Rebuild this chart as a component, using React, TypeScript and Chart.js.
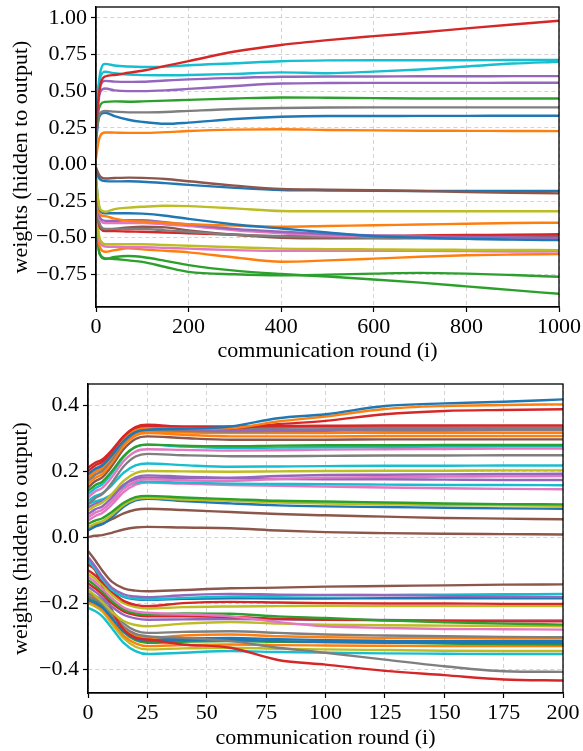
import React, { useEffect, useRef } from "react";
import { Chart, registerables } from "chart.js";

Chart.register(...registerables);

const BLUE = "#1f77b4";
const ORANGE = "#ff7f0e";
const GREEN = "#2ca02c";
const RED = "#d62728";
const PURPLE = "#9467bd";
const BROWN = "#8c564b";
const PINK = "#e377c2";
const GRAY = "#7f7f7f";
const OLIVE = "#bcbd22";
const CYAN = "#17becf";

// ---------- top panel ----------
const topRounds = [0, 5, 10, 20, 40, 70, 100, 150, 200, 300, 400, 500, 600, 700, 800, 900, 1000];
const topXTicks = [0, 200, 400, 600, 800, 1000];
const topYTicks = [-0.75, -0.5, -0.25, 0, 0.25, 0.5, 0.75, 1.0];
const topColors = [
  RED, CYAN, CYAN, PURPLE, PURPLE, GREEN, GRAY, BLUE, ORANGE,
  BROWN, BLUE, OLIVE, BLUE, ORANGE, PURPLE, PINK, GRAY, BROWN, RED, OLIVE, PINK, ORANGE, GREEN, GREEN,
];
const topWeights = [
  [0.25, 0.44, 0.55, 0.60, 0.61, 0.625, 0.639, 0.672, 0.705, 0.77, 0.815, 0.848, 0.875, 0.90, 0.928, 0.955, 0.98],
  [0.30, 0.52, 0.64, 0.686, 0.675, 0.668, 0.665, 0.667, 0.677, 0.69, 0.704, 0.71, 0.711, 0.711, 0.711, 0.712, 0.712],
  [0.28, 0.50, 0.60, 0.632, 0.622, 0.613, 0.609, 0.608, 0.61, 0.618, 0.628, 0.622, 0.633, 0.648, 0.668, 0.688, 0.70],
  [0.26, 0.45, 0.54, 0.57, 0.565, 0.563, 0.564, 0.572, 0.58, 0.59, 0.598, 0.60, 0.60, 0.601, 0.601, 0.602, 0.602],
  [0.22, 0.42, 0.50, 0.518, 0.505, 0.50, 0.50, 0.505, 0.515, 0.535, 0.552, 0.555, 0.556, 0.556, 0.556, 0.557, 0.557],
  [0.20, 0.36, 0.41, 0.427, 0.43, 0.428, 0.43, 0.435, 0.44, 0.45, 0.457, 0.455, 0.452, 0.45, 0.45, 0.45, 0.45],
  [0.18, 0.31, 0.355, 0.364, 0.36, 0.355, 0.355, 0.358, 0.365, 0.378, 0.385, 0.388, 0.389, 0.389, 0.389, 0.389, 0.389],
  [0.15, 0.30, 0.34, 0.352, 0.33, 0.305, 0.29, 0.277, 0.285, 0.31, 0.325, 0.33, 0.33, 0.331, 0.331, 0.332, 0.332],
  [0.04, 0.15, 0.20, 0.218, 0.217, 0.215, 0.215, 0.22, 0.228, 0.237, 0.24, 0.235, 0.232, 0.23, 0.229, 0.228, 0.227],
  [-0.02, -0.06, -0.085, -0.096, -0.093, -0.09, -0.092, -0.10, -0.115, -0.145, -0.168, -0.172, -0.176, -0.182, -0.188, -0.193, -0.198],
  [-0.04, -0.085, -0.105, -0.114, -0.116, -0.115, -0.118, -0.128, -0.14, -0.16, -0.175, -0.178, -0.18, -0.181, -0.181, -0.182, -0.182],
  [-0.10, -0.25, -0.31, -0.323, -0.305, -0.295, -0.289, -0.282, -0.285, -0.30, -0.318, -0.32, -0.32, -0.32, -0.32, -0.32, -0.32],
  [-0.09, -0.26, -0.32, -0.334, -0.333, -0.333, -0.336, -0.35, -0.372, -0.41, -0.437, -0.465, -0.49, -0.50, -0.508, -0.513, -0.517],
  [-0.12, -0.30, -0.345, -0.353, -0.37, -0.385, -0.39, -0.40, -0.408, -0.418, -0.425, -0.42, -0.415, -0.41, -0.405, -0.40, -0.398],
  [-0.13, -0.31, -0.37, -0.385, -0.385, -0.38, -0.38, -0.395, -0.41, -0.44, -0.46, -0.475, -0.485, -0.49, -0.495, -0.498, -0.50],
  [-0.14, -0.33, -0.385, -0.40, -0.40, -0.40, -0.40, -0.41, -0.42, -0.45, -0.47, -0.485, -0.49, -0.495, -0.498, -0.50, -0.505],
  [-0.15, -0.36, -0.42, -0.44, -0.44, -0.44, -0.44, -0.45, -0.46, -0.48, -0.49, -0.495, -0.50, -0.505, -0.508, -0.51, -0.51],
  [-0.16, -0.37, -0.43, -0.445, -0.44, -0.43, -0.425, -0.43, -0.45, -0.48, -0.50, -0.505, -0.505, -0.50, -0.495, -0.492, -0.49],
  [-0.17, -0.38, -0.44, -0.455, -0.455, -0.458, -0.46, -0.465, -0.47, -0.48, -0.49, -0.49, -0.488, -0.485, -0.482, -0.48, -0.477],
  [-0.20, -0.45, -0.52, -0.544, -0.545, -0.545, -0.545, -0.55, -0.555, -0.565, -0.575, -0.578, -0.58, -0.582, -0.583, -0.584, -0.585],
  [-0.21, -0.47, -0.54, -0.56, -0.562, -0.565, -0.565, -0.57, -0.575, -0.585, -0.59, -0.59, -0.59, -0.59, -0.592, -0.594, -0.595],
  [-0.22, -0.50, -0.575, -0.596, -0.585, -0.572, -0.58, -0.59, -0.60, -0.635, -0.664, -0.655, -0.643, -0.63, -0.62, -0.615, -0.612],
  [-0.25, -0.55, -0.62, -0.641, -0.645, -0.655, -0.665, -0.70, -0.733, -0.75, -0.757, -0.752, -0.745, -0.74, -0.745, -0.755, -0.767],
  [-0.26, -0.56, -0.625, -0.645, -0.632, -0.625, -0.632, -0.658, -0.687, -0.725, -0.748, -0.765, -0.785, -0.807, -0.832, -0.858, -0.883],
];

// ---------- bottom panel ----------
const bottomRounds = [0, 3, 6, 10, 15, 20, 25, 40, 60, 80, 100, 125, 150, 175, 200];
const bottomXTicks = [0, 25, 50, 75, 100, 125, 150, 175, 200];
const bottomYTicks = [-0.4, -0.2, 0, 0.2, 0.4];
const bottomColors = [
  BLUE, ORANGE, RED, RED, GRAY, PURPLE, GRAY, ORANGE, ORANGE, BROWN, GREEN, CYAN, PINK, GRAY, CYAN,
  OLIVE, PURPLE, PINK, PURPLE, CYAN, PINK, GREEN, OLIVE, BLUE, BROWN, BROWN,
  BROWN, PURPLE, CYAN, BLUE, RED, OLIVE, PINK, GREEN, RED, PURPLE, OLIVE, GRAY, RED, GRAY,
  ORANGE, BLUE, BLUE, GREEN, ORANGE, OLIVE, CYAN,
];
const bottomWeights = [
  [0.19, 0.206, 0.217, 0.247, 0.291, 0.318, 0.325, 0.328, 0.335, 0.36, 0.372, 0.397, 0.405, 0.41, 0.417],
  [0.18, 0.198, 0.21, 0.243, 0.293, 0.323, 0.33, 0.328, 0.33, 0.35, 0.365, 0.388, 0.397, 0.40, 0.402],
  [0.20, 0.217, 0.228, 0.259, 0.305, 0.333, 0.34, 0.333, 0.33, 0.342, 0.352, 0.372, 0.382, 0.385, 0.387],
  [0.21, 0.225, 0.235, 0.263, 0.304, 0.329, 0.335, 0.335, 0.335, 0.336, 0.337, 0.338, 0.338, 0.338, 0.338],
  [0.19, 0.207, 0.219, 0.251, 0.299, 0.328, 0.335, 0.332, 0.33, 0.331, 0.332, 0.332, 0.332, 0.331, 0.331],
  [0.18, 0.198, 0.21, 0.243, 0.293, 0.323, 0.33, 0.327, 0.325, 0.325, 0.326, 0.327, 0.327, 0.327, 0.327],
  [0.17, 0.189, 0.201, 0.235, 0.286, 0.317, 0.325, 0.322, 0.32, 0.321, 0.322, 0.323, 0.323, 0.324, 0.324],
  [0.17, 0.188, 0.20, 0.233, 0.283, 0.313, 0.32, 0.317, 0.315, 0.315, 0.315, 0.316, 0.316, 0.316, 0.316],
  [0.16, 0.179, 0.191, 0.225, 0.276, 0.307, 0.315, 0.31, 0.305, 0.305, 0.305, 0.306, 0.306, 0.306, 0.306],
  [0.15, 0.169, 0.181, 0.215, 0.266, 0.297, 0.305, 0.30, 0.295, 0.295, 0.295, 0.296, 0.296, 0.296, 0.296],
  [0.14, 0.157, 0.168, 0.199, 0.245, 0.273, 0.28, 0.277, 0.275, 0.277, 0.278, 0.278, 0.279, 0.279, 0.279],
  [0.13, 0.148, 0.16, 0.193, 0.243, 0.273, 0.28, 0.274, 0.27, 0.271, 0.272, 0.273, 0.274, 0.275, 0.275],
  [0.12, 0.138, 0.149, 0.181, 0.23, 0.259, 0.266, 0.264, 0.262, 0.263, 0.265, 0.266, 0.267, 0.268, 0.268],
  [0.10, 0.118, 0.13, 0.164, 0.214, 0.244, 0.252, 0.248, 0.245, 0.245, 0.246, 0.247, 0.247, 0.248, 0.248],
  [0.11, 0.124, 0.133, 0.157, 0.195, 0.217, 0.223, 0.218, 0.213, 0.214, 0.215, 0.216, 0.216, 0.217, 0.217],
  [0.08, 0.094, 0.104, 0.13, 0.17, 0.194, 0.20, 0.199, 0.198, 0.199, 0.20, 0.201, 0.201, 0.202, 0.202],
  [0.07, 0.084, 0.093, 0.119, 0.158, 0.181, 0.187, 0.183, 0.18, 0.185, 0.188, 0.189, 0.19, 0.191, 0.192],
  [0.06, 0.074, 0.083, 0.108, 0.146, 0.169, 0.175, 0.172, 0.17, 0.176, 0.18, 0.182, 0.183, 0.184, 0.185],
  [0.09, 0.101, 0.108, 0.128, 0.158, 0.176, 0.18, 0.179, 0.178, 0.176, 0.175, 0.175, 0.174, 0.173, 0.173],
  [0.10, 0.108, 0.114, 0.129, 0.151, 0.165, 0.168, 0.165, 0.162, 0.161, 0.16, 0.159, 0.158, 0.158, 0.157],
  [0.05, 0.064, 0.073, 0.098, 0.136, 0.159, 0.165, 0.162, 0.158, 0.155, 0.153, 0.15, 0.148, 0.146, 0.145],
  [0.04, 0.05, 0.057, 0.076, 0.104, 0.121, 0.125, 0.12, 0.115, 0.11, 0.108, 0.105, 0.102, 0.10, 0.099],
  [0.03, 0.041, 0.048, 0.067, 0.097, 0.115, 0.119, 0.114, 0.11, 0.105, 0.102, 0.099, 0.097, 0.096, 0.095],
  [0.02, 0.032, 0.039, 0.06, 0.092, 0.111, 0.116, 0.109, 0.102, 0.096, 0.093, 0.091, 0.089, 0.087, 0.086],
  [0.03, 0.037, 0.041, 0.054, 0.072, 0.083, 0.086, 0.082, 0.076, 0.07, 0.066, 0.062, 0.058, 0.056, 0.054],
  [0.0, 0.004, 0.006, 0.013, 0.023, 0.029, 0.031, 0.029, 0.027, 0.02, 0.015, 0.012, 0.01, 0.009, 0.008],
  [-0.042, -0.07, -0.101, -0.135, -0.155, -0.162, -0.164, -0.16, -0.155, -0.153, -0.15, -0.148, -0.146, -0.144, -0.143],
  [-0.06, -0.088, -0.119, -0.153, -0.173, -0.18, -0.182, -0.176, -0.172, -0.174, -0.175, -0.176, -0.178, -0.18, -0.181],
  [-0.07, -0.097, -0.127, -0.16, -0.18, -0.186, -0.188, -0.184, -0.18, -0.178, -0.176, -0.175, -0.174, -0.173, -0.172],
  [-0.065, -0.094, -0.125, -0.16, -0.181, -0.188, -0.19, -0.187, -0.185, -0.186, -0.186, -0.185, -0.185, -0.185, -0.185],
  [-0.10, -0.116, -0.136, -0.165, -0.193, -0.205, -0.209, -0.20, -0.196, -0.198, -0.20, -0.201, -0.201, -0.202, -0.202],
  [-0.11, -0.126, -0.145, -0.174, -0.20, -0.212, -0.216, -0.212, -0.21, -0.209, -0.208, -0.209, -0.209, -0.209, -0.209],
  [-0.12, -0.136, -0.156, -0.185, -0.213, -0.225, -0.229, -0.233, -0.24, -0.257, -0.27, -0.275, -0.278, -0.279, -0.28],
  [-0.13, -0.146, -0.165, -0.193, -0.219, -0.231, -0.235, -0.231, -0.232, -0.24, -0.245, -0.252, -0.258, -0.262, -0.265],
  [-0.14, -0.155, -0.173, -0.20, -0.225, -0.236, -0.24, -0.24, -0.242, -0.247, -0.25, -0.252, -0.254, -0.255, -0.255],
  [-0.15, -0.165, -0.183, -0.21, -0.235, -0.246, -0.25, -0.249, -0.248, -0.249, -0.25, -0.251, -0.252, -0.252, -0.252],
  [-0.16, -0.177, -0.196, -0.226, -0.254, -0.266, -0.27, -0.262, -0.257, -0.262, -0.265, -0.267, -0.268, -0.269, -0.27],
  [-0.17, -0.178, -0.192, -0.223, -0.261, -0.283, -0.29, -0.287, -0.285, -0.29, -0.295, -0.298, -0.30, -0.302, -0.303],
  [-0.083, -0.10, -0.15, -0.22, -0.28, -0.305, -0.31, -0.325, -0.335, -0.372, -0.386, -0.405, -0.418, -0.431, -0.434],
  [-0.18, -0.188, -0.202, -0.233, -0.271, -0.293, -0.30, -0.305, -0.315, -0.335, -0.35, -0.371, -0.391, -0.406, -0.408],
  [-0.175, -0.184, -0.198, -0.232, -0.274, -0.297, -0.305, -0.298, -0.295, -0.30, -0.303, -0.305, -0.306, -0.307, -0.307],
  [-0.18, -0.189, -0.203, -0.237, -0.279, -0.302, -0.31, -0.307, -0.305, -0.309, -0.312, -0.314, -0.315, -0.315, -0.315],
  [-0.19, -0.199, -0.213, -0.245, -0.285, -0.308, -0.315, -0.312, -0.31, -0.315, -0.318, -0.319, -0.32, -0.321, -0.321],
  [-0.185, -0.194, -0.209, -0.244, -0.288, -0.312, -0.32, -0.317, -0.315, -0.317, -0.318, -0.32, -0.322, -0.324, -0.325],
  [-0.195, -0.204, -0.219, -0.254, -0.298, -0.322, -0.33, -0.327, -0.325, -0.327, -0.328, -0.329, -0.33, -0.33, -0.33],
  [-0.20, -0.21, -0.225, -0.262, -0.306, -0.332, -0.34, -0.337, -0.335, -0.338, -0.34, -0.342, -0.344, -0.345, -0.345],
  [-0.214, -0.224, -0.24, -0.275, -0.32, -0.345, -0.354, -0.35, -0.345, -0.348, -0.35, -0.352, -0.353, -0.354, -0.354],
];

const FONT = { family: "'Liberation Serif', 'Times New Roman', serif", size: 22 };
const GRID = "rgba(190,190,190,0.75)";

const framePlugin = {
  id: "frame",
  afterDraw(chart: any) {
    const { ctx, chartArea: a } = chart;
    ctx.save();
    ctx.strokeStyle = "#000";
    ctx.lineWidth = 1.3;
    ctx.strokeRect(a.left, a.top, a.right - a.left, a.bottom - a.top);
    ctx.restore();
  },
};

function fmt(v: number, digits: number) {
  return v.toFixed(digits).replace("-", "\u2212");
}

type PanelCfg = {
  xs: number[];
  series: number[][];
  colors: string[];
  xMin: number;
  xMax: number;
  yMin: number;
  yMax: number;
  xTicks: number[];
  yTicks: number[];
  yDigits: number;
  yWidth: number;
  xHeight: number;
  padTop: number;
  padRight: number;
  xTitlePad: number;
};

function buildChart(canvas: HTMLCanvasElement, c: PanelCfg) {
  const datasets = c.series.map((ys, k) => ({
    data: ys.map((y, j) => ({ x: c.xs[j], y })),
    borderColor: c.colors[k],
    backgroundColor: c.colors[k],
    borderWidth: 2.4,
    pointRadius: 0,
    fill: false,
    cubicInterpolationMode: "monotone" as const,
  }));
  return new Chart(canvas, {
    type: "line",
    data: { datasets },
    plugins: [framePlugin],
    options: {
      responsive: false,
      animation: false,
      events: [],
      layout: { padding: { left: 0, right: c.padRight, top: c.padTop, bottom: 0 } },
      plugins: { legend: { display: false }, tooltip: { enabled: false } },
      scales: {
        x: {
          type: "linear",
          min: c.xMin,
          max: c.xMax,
          afterBuildTicks: (s: any) => {
            s.ticks = c.xTicks.map((v) => ({ value: v }));
          },
          afterFit: (s: any) => {
            s.height = c.xHeight;
            s.paddingLeft = 0;
            s.paddingRight = 0;
            s.paddingTop = 0;
            s.paddingBottom = 0;
          },
          ticks: {
            font: FONT,
            color: "#000",
            padding: 2,
            maxRotation: 0,
            autoSkip: false,
            callback: (v: any) => String(v),
          },
          grid: {
            color: GRID,
            lineWidth: 0.9,
            tickColor: "#000",
            tickLength: 5,
            tickWidth: 1.2,
            tickBorderDash: [],
          },
          border: { color: "#000", width: 1.3, dash: [4, 3] },
          title: {
            display: true,
            text: "communication round (i)",
            font: FONT,
            color: "#000",
            padding: { top: 0, bottom: c.xTitlePad },
          },
        },
        y: {
          type: "linear",
          min: c.yMin,
          max: c.yMax,
          afterBuildTicks: (s: any) => {
            s.ticks = c.yTicks.map((v) => ({ value: v }));
          },
          afterFit: (s: any) => {
            s.width = c.yWidth;
            s.paddingLeft = 0;
            s.paddingRight = 0;
            s.paddingTop = 0;
            s.paddingBottom = 0;
          },
          ticks: {
            font: FONT,
            color: "#000",
            padding: 4,
            autoSkip: false,
            callback: (v: any) => fmt(Number(v), c.yDigits),
          },
          grid: {
            color: GRID,
            lineWidth: 0.9,
            tickColor: "#000",
            tickLength: 5,
            tickWidth: 1.2,
            tickBorderDash: [],
          },
          border: { color: "#000", width: 1.3, dash: [4, 3] },
          title: {
            display: true,
            text: "weights (hidden to output)",
            font: FONT,
            color: "#000",
            padding: { top: 8, bottom: 0 },
          },
        },
      },
    } as any,
  });
}

export default function App() {
  const topRef = useRef<HTMLCanvasElement | null>(null);
  const bottomRef = useRef<HTMLCanvasElement | null>(null);

  useEffect(() => {
    const charts: Chart[] = [];
    if (topRef.current) {
      charts.push(
        buildChart(topRef.current, {
          xs: topRounds,
          series: topWeights,
          colors: topColors,
          xMin: 0,
          xMax: 1000,
          yMin: -0.973,
          yMax: 1.074,
          xTicks: topXTicks,
          yTicks: topYTicks,
          yDigits: 2,
          yWidth: 96,
          xHeight: 63,
          padTop: 7,
          padRight: 24,
          xTitlePad: 6,
        })
      );
    }
    if (bottomRef.current) {
      charts.push(
        buildChart(bottomRef.current, {
          xs: bottomRounds,
          series: bottomWeights,
          colors: bottomColors,
          xMin: 0,
          xMax: 200,
          yMin: -0.472,
          yMax: 0.4636,
          xTicks: bottomXTicks,
          yTicks: bottomYTicks,
          yDigits: 1,
          yWidth: 88,
          xHeight: 58,
          padTop: 14,
          padRight: 20,
          xTitlePad: 0,
        })
      );
    }
    return () => charts.forEach((ch) => ch.destroy());
  }, []);

  return (
    <div style={{ position: "absolute", left: 0, top: 0, width: 583, height: 751, background: "#fff" }}>
      <canvas ref={topRef} width={583} height={370} style={{ position: "absolute", left: 0, top: 0, width: 583, height: 370 }} />
      <canvas ref={bottomRef} width={583} height={381} style={{ position: "absolute", left: 0, top: 370, width: 583, height: 381 }} />
    </div>
  );
}
